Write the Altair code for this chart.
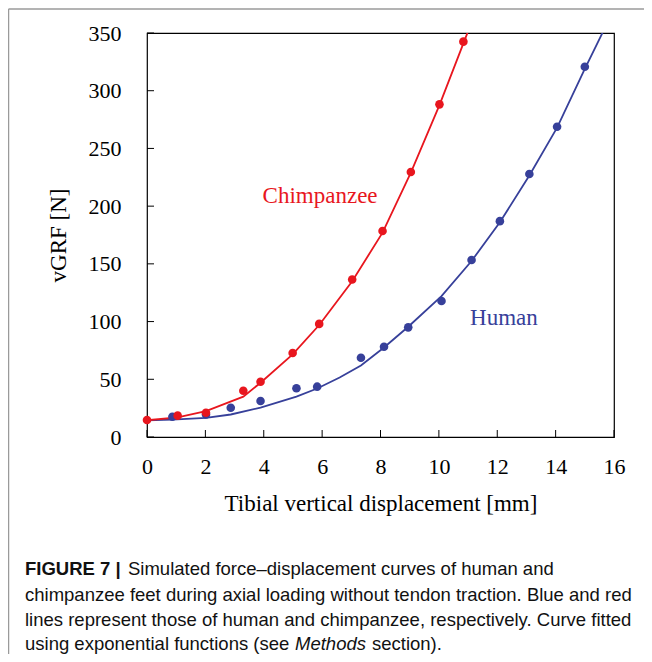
import altair as alt
import pandas as pd

# ---- data ----
chimp_x = [0.0, 1.05, 2.02, 3.30, 3.89, 4.99, 5.90, 7.03, 8.07, 9.04, 10.02, 10.84]
chimp_y = [14.7, 18.5, 21.0, 40.1, 47.9, 72.8, 98.0, 136.5, 178.5, 229.6, 288.2, 342.5]
human_x = [0.87, 2.02, 2.87, 3.89, 5.12, 5.83, 7.33, 8.12, 8.95, 10.09, 11.12, 12.09, 13.10, 14.05, 15.00]
human_y = [17.6, 19.6, 25.4, 31.2, 42.2, 43.6, 68.7, 78.2, 95.0, 117.8, 153.3, 187.0, 227.8, 268.8, 320.8]

chimp_fit_x = [0.0, 1.05, 2.02, 3.30, 3.89, 4.99, 5.90, 7.03, 8.07, 9.04, 10.02, 10.84, 11.0]
chimp_fit_y = [14.5, 17.0, 22.5, 35.0, 47.0, 71.5, 97.0, 135.0, 177.0, 229.0, 287.5, 341.0, 351.5]
human_fit_x = [0.0, 0.87, 2.02, 2.87, 3.89, 5.12, 5.83, 6.60, 7.33, 8.12, 8.95, 10.09, 11.12, 12.09, 13.10, 14.05, 15.00, 15.70]
human_fit_y = [14.5, 15.0, 16.5, 19.5, 25.5, 35.0, 42.0, 51.5, 62.0, 77.5, 95.5, 122.0, 152.5, 186.0, 226.5, 268.0, 319.0, 355.0]

x_ticks = [0, 2, 4, 6, 8, 10, 12, 14, 16]
y_ticks = [0, 50, 100, 150, 200, 250, 300, 350]

series_labels = ["Chimpanzee", "Human"]
label_x = [5.93, 12.23]
label_y = [202.7, 97.0]

caption_bold = "FIGURE 7 |"
caption_lines = [
    "Simulated force\u2013displacement curves of human and",
    "chimpanzee feet during axial loading without tendon traction. Blue and red",
    "lines represent those of human and chimpanzee, respectively. Curve fitted",
    "using exponential functions (see",
]
caption_italic = "Methods"
caption_tail = "section)."

RED = "#E8161E"
BLUE = "#37409A"
W, H = 467, 404
SERIF = "Liberation Serif"
SANS = "Liberation Sans"

xs = alt.Scale(domain=[0, 16], nice=False, zero=False)
ys = alt.Scale(domain=[0, 350], nice=False, zero=False)

xaxis = alt.Axis(values=x_ticks, title="Tibial vertical displacement [mm]",
                 labelFont=SERIF, labelFontSize=22, labelColor="black",
                 labelBaseline="alphabetic", labelPadding=36, labelFlush=False,
                 titleFont=SERIF, titleFontSize=23, titleFontWeight="normal", titleColor="black",
                 titleX=W / 2, titleY=73, titleBaseline="alphabetic")
yaxis = alt.Axis(values=y_ticks, title="vGRF [N]",
                 labelFont=SERIF, labelFontSize=22, labelColor="black",
                 labelPadding=26, labelFlush=False,
                 titleFont=SERIF, titleFontSize=23, titleFontWeight="normal", titleColor="black",
                 titleX=-82, titleY=H / 2, titleBaseline="alphabetic")

cf = pd.DataFrame({"x": chimp_fit_x, "y": chimp_fit_y})
hf = pd.DataFrame({"x": human_fit_x, "y": human_fit_y})
cd = pd.DataFrame({"x": chimp_x, "y": chimp_y})
hd = pd.DataFrame({"x": human_x, "y": human_y})

base_x = alt.X("x:Q", scale=xs, axis=xaxis)
base_y = alt.Y("y:Q", scale=ys, axis=yaxis)

human_line = alt.Chart(hf).mark_line(color=BLUE, strokeWidth=1.8, clip=True).encode(x=base_x, y=base_y)
chimp_line = alt.Chart(cf).mark_line(color=RED, strokeWidth=1.8, clip=True).encode(x="x:Q", y="y:Q")
human_pts = alt.Chart(hd).mark_circle(color=BLUE, size=74, opacity=1).encode(x="x:Q", y="y:Q")
chimp_pts = alt.Chart(cd).mark_circle(color=RED, size=74, opacity=1).encode(x="x:Q", y="y:Q")

ldf = pd.DataFrame({"t": series_labels, "x": label_x, "y": label_y, "c": [RED, BLUE]})
labels = alt.Chart(ldf).mark_text(font=SERIF, fontSize=23, align="center", baseline="alphabetic").encode(
    x="x:Q", y="y:Q", text="t:N", color=alt.Color("c:N", scale=None))

xt = alt.Chart(pd.DataFrame({"v": x_ticks})).mark_rule(color="black", strokeWidth=1).encode(
    x="v:Q", y=alt.value(H), y2=alt.value(H - 7))
yt = alt.Chart(pd.DataFrame({"v": y_ticks})).mark_rule(color="black", strokeWidth=1).encode(
    y="v:Q", x=alt.value(0), x2=alt.value(7))

# figure border (left and top)
border_left = alt.Chart(pd.DataFrame({"k": [0]})).mark_rule(color="#9a9a9a", strokeWidth=1.5).encode(
    x=alt.value(-138.5), y=alt.value(-24), y2=alt.value(621))
border_top = alt.Chart(pd.DataFrame({"k": [0]})).mark_rule(color="#9a9a9a", strokeWidth=1.5).encode(
    x=alt.value(-138.5), x2=alt.value(497), y=alt.value(-24))

CAP_X = -122
cap_base = [542, 567.5, 593, 617]
FS = 18.5
cap_layers = []
cap_layers.append(alt.Chart(pd.DataFrame({"t": [caption_bold]})).mark_text(
    font=SANS, fontSize=FS, fontWeight="bold", align="left", baseline="alphabetic", color="#111").encode(
    text="t:N", x=alt.value(CAP_X), y=alt.value(cap_base[0])))
cap_layers.append(alt.Chart(pd.DataFrame({"t": [caption_lines[0]]})).mark_text(
    font=SANS, fontSize=FS, align="left", baseline="alphabetic", color="#111").encode(
    text="t:N", x=alt.value(-19), y=alt.value(cap_base[0])))
for i in (1, 2, 3):
    cap_layers.append(alt.Chart(pd.DataFrame({"t": [caption_lines[i]]})).mark_text(
        font=SANS, fontSize=FS, align="left", baseline="alphabetic", color="#111").encode(
        text="t:N", x=alt.value(CAP_X), y=alt.value(cap_base[i])))
cap_layers.append(alt.Chart(pd.DataFrame({"t": [caption_italic]})).mark_text(
    font=SANS, fontSize=FS, fontStyle="italic", align="left", baseline="alphabetic", color="#111").encode(
    text="t:N", x=alt.value(CAP_X + 270), y=alt.value(cap_base[3])))
cap_layers.append(alt.Chart(pd.DataFrame({"t": [caption_tail]})).mark_text(
    font=SANS, fontSize=FS, align="left", baseline="alphabetic", color="#111").encode(
    text="t:N", x=alt.value(CAP_X + 270 + 77), y=alt.value(cap_base[3])))

chart = alt.layer(
    human_line, chimp_line, human_pts, chimp_pts, labels, xt, yt,
    border_left, border_top, *cap_layers
).properties(
    width=W, height=H,
    autosize=alt.AutoSizeParams(type="none"),
    padding={"left": 139, "top": 25, "right": 30, "bottom": 217},
    background="white",
).configure_view(
    stroke="black", strokeWidth=1.2
).configure_axis(
    domain=False, ticks=False, grid=False
)

chart.save("out.html", embed_options={"renderer": "svg", "actions": False})
